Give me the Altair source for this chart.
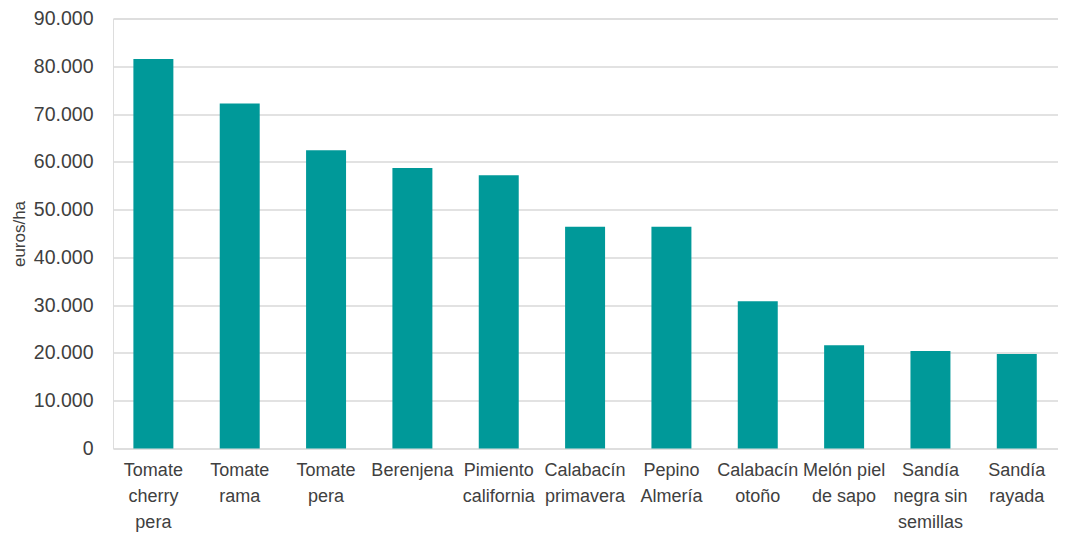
import altair as alt
import pandas as pd

categories = [
    "Tomate\ncherry\npera", "Tomate\nrama", "Tomate\npera", "Berenjena",
    "Pimiento\ncalifornia", "Calabacín\nprimavera", "Pepino\nAlmería",
    "Calabacín\notoño", "Melón piel\nde sapo", "Sandía\nnegra sin\nsemillas",
    "Sandía\nrayada",
]
values = [81500, 72200, 62400, 58700, 57200, 46400, 46400, 30800, 21600, 20400, 19800]
y_ticks = [0, 10000, 20000, 30000, 40000, 50000, 60000, 70000, 80000, 90000]

df = pd.DataFrame({"cultivo": categories, "valor": values})

TEXT = "#404040"

chart = (
    alt.Chart(df)
    .mark_bar(color="#009999")
    .encode(
        x=alt.X(
            "cultivo:N",
            sort=None,
            title=None,
            scale=alt.Scale(paddingInner=0.537, paddingOuter=0.241, align=0.49),
            axis=alt.Axis(
                labelAngle=0,
                labelExpr="split(datum.label, '\\n')",
                labelFont="Liberation Sans",
                labelFontSize=18,
                labelColor=TEXT,
                labelLineHeight=26,
                labelPadding=13,
                labelLimit=200,
                ticks=False,
                domain=False,
                grid=False,
            ),
        ),
        y=alt.Y(
            "valor:Q",
            title="euros/ha",
            scale=alt.Scale(domain=[0, 90000], nice=False),
            axis=alt.Axis(
                values=y_ticks,
                labelExpr="replace(format(datum.value, ','), ',', '.')",
                labelFont="Liberation Sans",
                labelFontSize=19.5,
                labelColor=TEXT,
                labelPadding=20,
                ticks=False,
                domain=False,
                gridColor="#d9d9d9",
                gridWidth=1.4,
                titleFont="Liberation Sans",
                titleFontSize=17,
                titleFontWeight="normal",
                titleColor=TEXT,
                titleAngle=270,
                titleX=-94,
                titleY=215,
                titleAlign="center",
                titleBaseline="middle",
            ),
        ),
    )
    .properties(
        width=945,
        height=430,
        autosize=alt.AutoSizeParams(type="none"),
        padding={"left": 105, "top": 10.5, "right": 0, "bottom": 87.5},
    )
    .configure_view(stroke=None)
    .configure(background="white")
)

chart.save("out.html", embed_options={"renderer": "svg", "actions": False})
